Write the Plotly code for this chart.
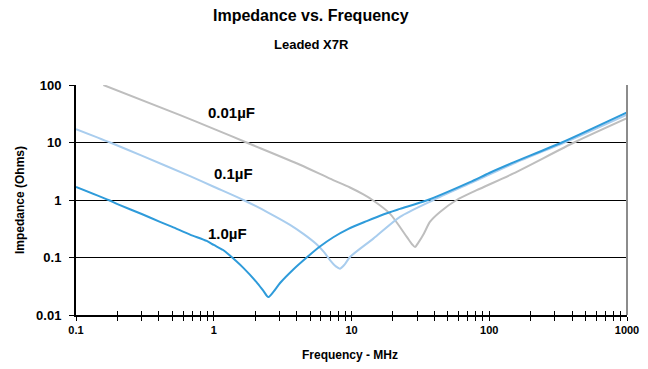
import math
import plotly.graph_objects as go

# ---- data (frequency in MHz, impedance in Ohms) ----
f_1uF = [0.1, 0.172, 0.2, 0.3, 0.407, 0.5, 0.673, 0.889, 1.0, 1.17, 1.31, 1.64, 2.05, 2.3, 2.49, 2.7, 3.03, 3.78, 4.73, 5.9, 7.38, 9.5, 12.9, 17, 22.5, 35, 72.4, 100, 150, 336, 1000]
z_1uF = [1.69, 1.0, 0.85, 0.57, 0.416, 0.34, 0.25, 0.194, 0.165, 0.135, 0.108, 0.066, 0.037, 0.026, 0.0205, 0.025, 0.036, 0.062, 0.1, 0.155, 0.225, 0.315, 0.43, 0.56, 0.70, 0.98, 2.05, 2.95, 4.5, 10, 33.4]

f_01uF = [0.1, 0.177, 0.3, 0.673, 1.0, 1.64, 2.5, 3.58, 4.5, 5.58, 6.3, 6.98, 7.7, 8.26, 8.9, 9.75, 14.4, 22.5, 39.3, 72.4, 150, 400, 1000]
z_01uF = [17.1, 10, 5.9, 2.6, 1.7, 1.0, 0.6, 0.37, 0.255, 0.17, 0.125, 0.09, 0.07, 0.064, 0.075, 0.102, 0.213, 0.51, 1.0, 1.94, 4.3, 11.4, 30.5]

f_001uF = [0.158, 0.57, 1.0, 1.73, 4.23, 6.98, 9.75, 12.2, 14.2, 19.0, 25.2, 27.5, 28.9, 30.5, 33.5, 37.2, 43.9, 58, 81, 150, 420, 1000]
z_001uF = [100, 30, 17.3, 10, 4.1, 2.35, 1.65, 1.25, 1.0, 0.58, 0.228, 0.17, 0.152, 0.18, 0.26, 0.42, 0.62, 1.0, 1.48, 2.9, 10.2, 26.5]

x_ticks = [0.1, 1, 10, 100, 1000]
x_tick_text = ["0.1", "1", "10", "100", "1000"]
y_ticks = [0.01, 0.1, 1, 10, 100]
y_tick_text = ["0.01", "0.1", "1", "10", "100"]

series = [
    ("0.01µF", f_001uF, z_001uF, "#BEBEBE"),
    ("0.1µF", f_01uF, z_01uF, "#A9CDEE"),
    ("1.0µF", f_1uF, z_1uF, "#2E9BDA"),
]

# all tick positions (decades + minor 2..9)
x_all = []
for d in [0.1, 1, 10, 100]:
    for m in range(1, 10):
        x_all.append(round(d * m, 6))
x_all.append(1000)
x_all_text = [x_tick_text[x_ticks.index(v)] if v in x_ticks else "" for v in x_all]

FONT = "Arial, Liberation Sans, sans-serif"

fig = go.Figure()
for name, fx, zy, col in series:
    fig.add_trace(go.Scatter(x=fx, y=zy, mode="lines", name=name,
                             line=dict(color=col, width=2, shape="spline", smoothing=0.7),
                             showlegend=False, hoverinfo="skip"))

# dummy trace for overlay axes (inside half of cross ticks)
fig.add_trace(go.Scatter(x=[None], y=[None], xaxis="x2", yaxis="y2",
                         showlegend=False, hoverinfo="skip"))

fig.update_layout(
    width=648, height=369,
    margin=dict(l=76, r=21, t=85, b=54, autoexpand=False),
    paper_bgcolor="white", plot_bgcolor="white",
    font=dict(family=FONT, color="black"),
    xaxis=dict(type="log", range=[-1, 3], tickmode="array", tickvals=x_all, ticktext=x_all_text,
               ticks="outside", ticklen=4, tickwidth=1, tickcolor="black", automargin=False,
               showline=True, linecolor="black", linewidth=2, showgrid=False, zeroline=False,
               tickfont=dict(family=FONT, size=11, color="black", weight="bold")),
    yaxis=dict(type="log", range=[-2, 2], tickmode="array", tickvals=y_ticks, ticktext=y_tick_text,
               ticks="outside", ticklen=5, tickwidth=1, tickcolor="black", ticklabelstandoff=5,
               automargin=False,
               showline=True, linecolor="black", linewidth=2,
               showgrid=True, gridcolor="black", gridwidth=1, zeroline=False,
               tickfont=dict(family=FONT, size=13, color="black", weight="bold")),
    xaxis2=dict(type="log", range=[-1, 3], overlaying="x", anchor="y", side="bottom",
                tickmode="array", tickvals=x_all, ticks="inside", ticklen=4, tickwidth=1,
                automargin=False,
                tickcolor="black", showticklabels=False, showline=False, showgrid=False, zeroline=False),
    yaxis2=dict(type="log", range=[-2, 2], overlaying="y", anchor="x", side="left",
                tickmode="array", tickvals=y_ticks, ticks="inside", ticklen=4, tickwidth=1,
                automargin=False,
                tickcolor="black", showticklabels=False, showline=False, showgrid=False, zeroline=False),
)

# right border (gray)
fig.add_shape(type="line", xref="paper", yref="paper", x0=1, x1=1, y0=0, y1=1,
              line=dict(color="#8C8C8C", width=2))

# curve labels
labels = [("0.01µF", 1.35, 33.9), ("0.1µF", 1.38, 2.93), ("1.0µF", 1.25, 0.264)]
for txt, lx, ly in labels:
    fig.add_annotation(x=math.log10(lx), y=math.log10(ly), xref="x", yref="y",
                       text="<b>" + txt + "</b>", showarrow=False,
                       font=dict(family=FONT, size=15, color="black"))

# titles
fig.add_annotation(x=0.4265, y=1.304, xref="paper", yref="paper", text="<b>Impedance vs. Frequency</b>",
                   showarrow=False, xanchor="center", yanchor="middle",
                   font=dict(family=FONT, size=16, color="black"))
fig.add_annotation(x=0.4265, y=1.174, xref="paper", yref="paper", text="<b>Leaded X7R</b>",
                   showarrow=False, xanchor="center", yanchor="middle",
                   font=dict(family=FONT, size=13, color="black"))
fig.add_annotation(x=0.497, y=-0.174, xref="paper", yref="paper", text="<b>Frequency - MHz</b>",
                   showarrow=False, xanchor="center", yanchor="middle",
                   font=dict(family=FONT, size=12, color="black"))
fig.add_annotation(x=-0.1016, y=0.5, xref="paper", yref="paper", text="<b>Impedance (Ohms)</b>",
                   showarrow=False, xanchor="center", yanchor="middle", textangle=-90,
                   font=dict(family=FONT, size=12, color="black"))

fig.write_html("out.html", config={"displayModeBar": False},
               post_script="document.body.style.margin='0px';")
